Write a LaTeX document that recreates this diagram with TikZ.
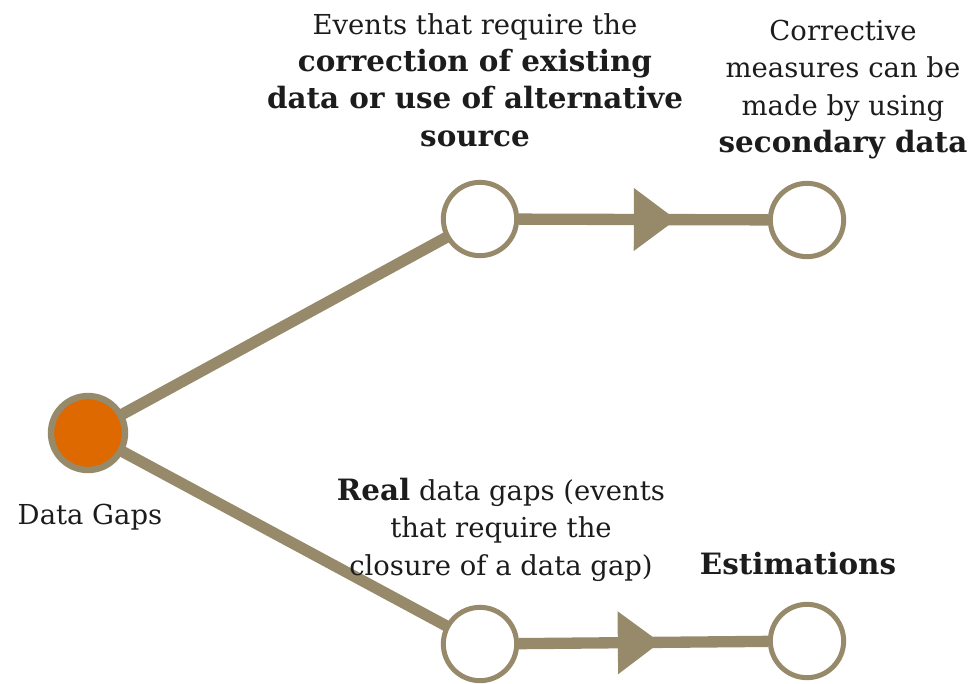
\documentclass[tikz,border=0pt]{standalone}
\usepackage{fontspec}
\setmainfont{DejaVu Serif}[BoldFeatures={Scale=1.07}]
\usetikzlibrary{arrows.meta,decorations.markings,backgrounds}
\definecolor{taupe}{RGB}{150,138,107}
\definecolor{dgorange}{RGB}{221,105,0}
\definecolor{txt}{RGB}{28,28,28}
\begin{document}
\begin{tikzpicture}[x=0.75pt,y=-0.75pt,
  hollow/.style={circle,draw=taupe,fill=white,line width=3.75pt,minimum size=55pt,inner sep=0pt},
  source/.style={circle,draw=taupe,fill=dgorange,line width=4.8pt,minimum size=55.5pt,inner sep=0pt},
  link/.style={draw=taupe,line width=8.5pt},
  midarr/.style={postaction={decorate,decoration={markings,mark=at position #1 with {\arrow{Triangle[length=32pt,width=45pt]}}}}},
  lbl/.style={align=center,inner sep=0pt,text=txt,font=\fontsize{20.6}{28}\selectfont}]
\useasboundingbox (0,0) rectangle (972,683);
\node[source] (gap) at (88,433) {};
\node[hollow] (corr) at (480,219) {};
\node[hollow] (sec) at (807,220) {};
\node[hollow] (real) at (480,644) {};
\node[hollow] (est) at (807,641) {};
\begin{scope}[on background layer]
\draw[link] (gap.center) -- (corr.center);
\draw[link] (gap.center) -- (real.center);
\end{scope}
\draw[link,midarr=118pt,draw=taupe,fill=taupe] (corr) -- (sec);
\draw[link,midarr=106pt,draw=taupe,fill=taupe] (real) -- (est);
\node[lbl,anchor=north] (tcorr) at (475,13) {Events that require the\\\textbf{correction of existing}\\\textbf{data or use of alternative}\\\textbf{source}};
\node[lbl,anchor=north] (tsec) at (843,20) {Corrective\\measures can be\\made by using\\\textbf{secondary data}};
\node[lbl,anchor=north] (treal) at (501,478) {\textbf{Real} data gaps (events\\that require the\\closure of a data gap)};
\node[lbl,anchor=north] (test) at (798,552) {\textbf{Estimations}};
\node[lbl,anchor=north] (tgap) at (90,504) {Data Gaps};
\end{tikzpicture}
\end{document}
